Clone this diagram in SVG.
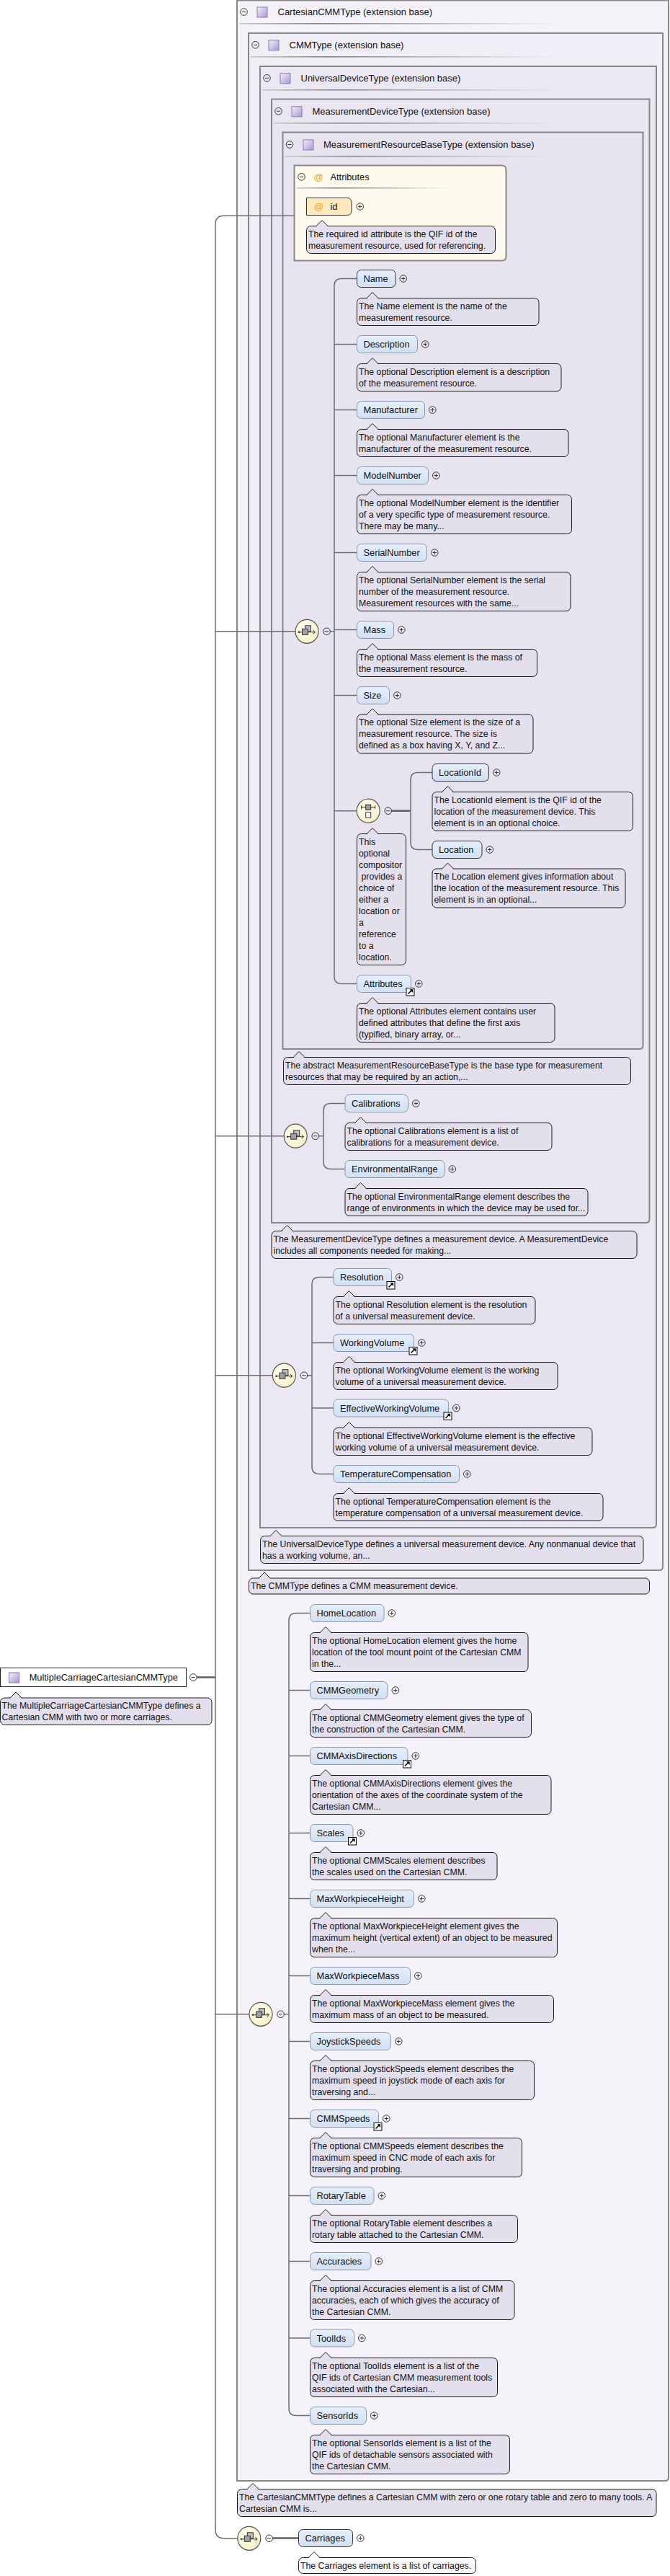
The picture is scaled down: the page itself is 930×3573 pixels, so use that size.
<svg xmlns="http://www.w3.org/2000/svg" width="930" height="3573" viewBox="0 0 930 3573">
<style>
.bx{stroke:#878787;stroke-width:2}
.cm{fill:#e4dfec;stroke:#1a1a1a;stroke-width:1}
.cw{fill:#fbfaff;stroke:#1a1a1a;stroke-width:1}
.nd{fill:url(#ndg);stroke:#8a98ad;stroke-width:1}
.nr{fill:url(#ndg);stroke:#333;stroke-width:1}
.ct{font-family:"Liberation Sans",Arial,sans-serif;font-size:12.3px;fill:#111}
.nt{font-family:"Liberation Sans",Arial,sans-serif;font-size:12.8px;fill:#111}
.ht{font-family:"Liberation Sans",Arial,sans-serif;font-size:13px;fill:#111}
.at{font-family:"Liberation Sans",Arial,sans-serif;font-size:13px;fill:#f0a020}
.con{fill:none;stroke:#6e6e6e;stroke-width:1.5}
.thk{fill:none;stroke:#5e5e5e;stroke-width:2.5}
.el{fill:url(#elg);stroke:#555;stroke-width:1.2}
.sep{fill:url(#sepg)}
</style>
<defs>
<linearGradient id="tig" x1="0" y1="0" x2="1" y2="1"><stop offset="0" stop-color="#f4f0fb"/><stop offset="1" stop-color="#a898d0"/></linearGradient>
<linearGradient id="ndg" x1="0" y1="0" x2="0" y2="1"><stop offset="0" stop-color="#e6eefa"/><stop offset="1" stop-color="#d2e0f3"/></linearGradient>
<linearGradient id="sepg" x1="0" y1="0" x2="1" y2="0"><stop offset="0" stop-color="#c8c8c8"/><stop offset="0.25" stop-color="#868686"/><stop offset="0.6" stop-color="#b8b8b8"/><stop offset="1" stop-color="#c0c0c0" stop-opacity="0"/></linearGradient>
<radialGradient id="elg" cx="0.4" cy="0.35" r="0.7"><stop offset="0" stop-color="#fffff0"/><stop offset="1" stop-color="#f6f1c8"/></radialGradient>
<g id="plus"><circle r="4.8" fill="none" stroke="#333" stroke-width="1"/><path d="M-2.6,0H2.6M0,-2.6V2.6" stroke="#333" stroke-width="1"/></g>
<g id="minus"><circle r="4.8" fill="none" stroke="#333" stroke-width="1"/><path d="M-2.6,0H2.6" stroke="#333" stroke-width="1"/></g>
<g id="ptr"><path d="M13.5,1 L21.5,-8 L29.5,1 Z" fill="#e4dfec"/><path d="M13.5,0 L21.5,-8 L29.5,0" fill="none" stroke="#1a1a1a"/></g>
<g id="ptrw"><path d="M13.5,1 L21.5,-8 L29.5,1 Z" fill="#fbfaff"/><path d="M13.5,0 L21.5,-8 L29.5,0" fill="none" stroke="#1a1a1a"/></g>
<g id="ref"><rect x="0.5" y="0.5" width="11" height="10.5" fill="#fff" stroke="#000"/><path d="M3,8.5 L8,3.5" stroke="#000" stroke-width="1.6"/><path d="M5,2.3 H9.6 V6.9 Z" fill="#000"/></g>
<g id="ti"><rect x="0.5" y="0.5" width="14" height="14" fill="url(#tig)" stroke="#8878b8"/></g>
<g id="seq"><path d="M-11,1 H11" stroke="#333" stroke-width="1"/><circle cx="-11" cy="1" r="1.3" fill="#333"/><path d="M8.5,-1.5 L11.5,1 L8.5,3.5" fill="none" stroke="#333"/><rect x="-2.5" y="-8" width="8" height="8" fill="#c0c0c0" stroke="#333"/><rect x="-6.5" y="-3.5" width="8" height="8" fill="#a0a0a0" stroke="#333"/></g>
<g id="cho"><path d="M-9.5,-5 H9.5 M-9.5,-7.5 V-2.5 M9.5,-7.5 V-2.5" stroke="#333" fill="none"/><rect x="-3.5" y="-8.5" width="7" height="7" fill="#999" stroke="#333"/><rect x="-3.5" y="2" width="7" height="7.5" fill="#fff" stroke="#333"/></g>
</defs>
<rect width="930" height="3573" fill="#fff"/>

<g id="box-cartesian">
<path class="bx" fill="#f5f3f9" d="M329,0.5 H928 V3436 Q928,3441 923,3441 H329 Z"/>
<use href="#minus" x="338.5" y="16.5"/><use href="#ti" x="356.5" y="9.5"/>
<text class="ht" x="385.5" y="21">CartesianCMMType (extension base)</text>
<rect class="sep" x="332" y="32" width="448" height="1.6"/>
</g>
<g id="box-cmm">
<path class="bx" fill="#f0eef6" d="M345,46 H920 V2173 Q920,2178 915,2178 H345 Z"/>
<use href="#minus" x="354.5" y="62.3"/><use href="#ti" x="372.5" y="55.3"/>
<text class="ht" x="401.5" y="66.7">CMMType (extension base)</text>
<rect class="sep" x="348" y="78" width="430" height="1.6"/>
</g>
<g id="box-universal">
<path class="bx" fill="#ebe8f3" d="M361,92 H911 V2114 Q911,2119 906,2119 H361 Z"/>
<use href="#minus" x="370.5" y="108.3"/><use href="#ti" x="388.5" y="101.3"/>
<text class="ht" x="417.5" y="112.7">UniversalDeviceType (extension base)</text>
<rect class="sep" x="364" y="124" width="412" height="1.6"/>
</g>
<g id="box-measdevice">
<path class="bx" fill="#e9e6f1" d="M377,137.5 H901.5 V1691 Q901.5,1696 896.5,1696 H377 Z"/>
<use href="#minus" x="386.5" y="154.3"/><use href="#ti" x="404.5" y="147.3"/>
<text class="ht" x="433.5" y="158.7">MeasurementDeviceType (extension base)</text>
<rect class="sep" x="380" y="170" width="396" height="1.6"/>
</g>
<g id="box-resbase">
<path class="bx" fill="#e7e4f0" d="M392.5,183.5 H892.5 V1450 Q892.5,1455 887.5,1455 H392.5 Z"/>
<use href="#minus" x="402" y="200.5"/><use href="#ti" x="420.5" y="193.5"/>
<text class="ht" x="449" y="204.7">MeasurementResourceBaseType (extension base)</text>
<rect class="sep" x="395.5" y="216" width="374" height="1.6"/>
</g>
<g id="attributes-group">
<path class="bx" fill="#fffaee" d="M408.5,229.5 H696.5 Q702.5,229.5 702.5,235.5 V355.5 Q702.5,361.5 696.5,361.5 H408.5 Z"/>
<use href="#minus" x="418.5" y="245.3"/>
<text class="at" x="435.5" y="250">@</text>
<text class="nt" x="458.5" y="250">Attributes</text>
<rect class="sep" x="411.5" y="260" width="216" height="1.6"/>
</g>
<g id="attr-id">
<path d="M425.5,274.5 H481.5 Q488,274.5 488,281 V292 Q488,298.5 481.5,298.5 H425.5 Z" fill="#fee9bf" stroke="#333"/>
<text class="at" x="436" y="291">@</text>
<text class="nt" x="458.5" y="291">id</text>
<use href="#plus" x="499.7" y="286.5"/>
</g>

<g id="connectors">
<path class="con" d="M408.5,299.3 H311 Q299,299.3 299,311.3 V3508.8 Q299,3520.8 311,3520.8 H329.8"/>
<path class="con" d="M299,875.8 H410"/>
<path class="con" d="M299,1575.7 H394.2"/>
<path class="con" d="M299,1907.7 H378.4"/>
<path class="con" d="M299,2793.8 H346"/>
<path class="thk" d="M273.3,2326.5 H299"/>
<path class="con" d="M458.3,875.8 H464"/>
<path class="con" d="M495.5,386.5 H474 Q464,386.5 464,396.5 V1354.5 Q464,1364.5 474,1364.5 H495.5"/>
<path class="con" d="M464,477.5 H495.5 M464,568.5 H495.5 M464,659.5 H495.5 M464,766.5 H495.5 M464,873.5 H495.5 M464,964.5 H495.5 M464,1124.7 H495.2"/>
<path class="thk" d="M543.6,1124.7 H570"/>
<path class="con" d="M600,1071.5 H580 Q570,1071.5 570,1081.5 V1168.5 Q570,1178.5 580,1178.5 H600"/>
<path class="con" d="M442.5,1575.7 H449"/>
<path class="con" d="M479,1530.5 H459 Q449,1530.5 449,1540.5 V1611.5 Q449,1621.5 459,1621.5 H479"/>
<path class="con" d="M426.8,1907.7 H433"/>
<path class="con" d="M463,1771.5 H443 Q433,1771.5 433,1781.5 V2034.5 Q433,2044.5 443,2044.5 H463"/>
<path class="con" d="M433,1862.5 H463 M433,1953 H463"/>
<path class="con" d="M394.3,2793.8 H401"/>
<path class="con" d="M430.5,2237.5 H411 Q401,2237.5 401,2247.5 V3340.5 Q401,3350.5 411,3350.5 H430.5"/>
<path class="con" d="M401,2344.5 H430.5 M401,2435.5 H430.5 M401,2542.5 H430.5 M401,2633.5 H430.5 M401,2740.5 H430.5 M401,2831.5 H430.5 M401,2938.5 H430.5 M401,3045.5 H430.5 M401,3136.5 H430.5 M401,3243 H430.5"/>
<path class="thk" d="M378.5,3520.6 H414.5"/>
</g>

<g id="root">
<rect x="0.5" y="2313.5" width="258" height="26" fill="#fff" stroke="#222"/>
<use href="#ti" x="12" y="2319.5"/>
<text class="nt" x="40.7" y="2330.8">MultipleCarriageCartesianCMMType</text>
<use href="#minus" x="268.3" y="2326.5"/>
</g>

<g id="seq-resbase"><ellipse class="el" cx="426" cy="875.8" rx="16" ry="16.5"/><use href="#seq" x="426" y="875.8"/><use href="#minus" x="453.5" y="875.8"/></g>
<g id="choice-location"><ellipse class="el" cx="511.2" cy="1124.7" rx="16" ry="16.5"/><use href="#cho" x="511.2" y="1124.7"/><use href="#minus" x="538.8" y="1124.7"/></g>
<g id="seq-measdevice"><ellipse class="el" cx="410.2" cy="1575.7" rx="16" ry="16.5"/><use href="#seq" x="410.2" y="1575.7"/><use href="#minus" x="437.7" y="1575.7"/></g>
<g id="seq-universal"><ellipse class="el" cx="394.4" cy="1907.7" rx="16" ry="16.5"/><use href="#seq" x="394.4" y="1907.7"/><use href="#minus" x="422" y="1907.7"/></g>
<g id="seq-cartesian"><ellipse class="el" cx="362" cy="2793.8" rx="16" ry="16.5"/><use href="#seq" x="362" y="2793.8"/><use href="#minus" x="389.5" y="2793.8"/></g>
<g id="seq-multiple"><ellipse class="el" cx="345.8" cy="3520.8" rx="16" ry="16.5"/><use href="#seq" x="345.8" y="3520.8"/><use href="#minus" x="373.6" y="3520.8"/></g>

<g id="n-name"><rect class="nr" x="495.5" y="374.5" width="53.5" height="24" rx="6"/><text class="nt" x="504.5" y="391.2">Name</text><use href="#plus" x="559.8" y="386.5"/></g>
<g id="n-description"><rect class="nd" x="495.5" y="465.5" width="84" height="24" rx="6"/><text class="nt" x="504.5" y="482.2">Description</text><use href="#plus" x="590.3" y="477.5"/></g>
<g id="n-manufacturer"><rect class="nd" x="495.5" y="556.5" width="94" height="24" rx="6"/><text class="nt" x="504.5" y="573.2">Manufacturer</text><use href="#plus" x="600.3" y="568.5"/></g>
<g id="n-modelnumber"><rect class="nd" x="495.5" y="647.5" width="99" height="24" rx="6"/><text class="nt" x="504.5" y="664.2">ModelNumber</text><use href="#plus" x="605.3" y="659.5"/></g>
<g id="n-serialnumber"><rect class="nd" x="495.5" y="754.5" width="97" height="24" rx="6"/><text class="nt" x="504.5" y="771.2">SerialNumber</text><use href="#plus" x="603.3" y="766.5"/></g>
<g id="n-mass"><rect class="nd" x="495.5" y="861.5" width="51" height="24" rx="6"/><text class="nt" x="504.5" y="878.2">Mass</text><use href="#plus" x="557.3" y="873.5"/></g>
<g id="n-size"><rect class="nd" x="495.5" y="952.5" width="45" height="24" rx="6"/><text class="nt" x="504.5" y="969.2">Size</text><use href="#plus" x="551.3" y="964.5"/></g>
<g id="n-locationid"><rect class="nr" x="600" y="1059.5" width="78.5" height="24" rx="6"/><text class="nt" x="609" y="1076.2">LocationId</text><use href="#plus" x="689.3" y="1071.5"/></g>
<g id="n-location"><rect class="nr" x="600" y="1166.5" width="69" height="24" rx="6"/><text class="nt" x="609" y="1183.2">Location</text><use href="#plus" x="679.8" y="1178.5"/></g>
<g id="n-attributes"><rect class="nd" x="495.5" y="1352.5" width="75" height="24" rx="6"/><text class="nt" x="504.5" y="1369.2">Attributes</text><use href="#ref" x="563.5" y="1370"/><use href="#plus" x="581.3" y="1364.5"/></g>
<g id="n-calibrations"><rect class="nd" x="479" y="1518.5" width="87.5" height="24" rx="6"/><text class="nt" x="488" y="1535.2">Calibrations</text><use href="#plus" x="577.3" y="1530.5"/></g>
<g id="n-envrange"><rect class="nd" x="479" y="1609.5" width="138" height="24" rx="6"/><text class="nt" x="488" y="1626.2">EnvironmentalRange</text><use href="#plus" x="627.8" y="1621.5"/></g>
<g id="n-resolution"><rect class="nd" x="463" y="1759.5" width="80.5" height="24" rx="6"/><text class="nt" x="472" y="1776.2">Resolution</text><use href="#ref" x="536.5" y="1777"/><use href="#plus" x="554.3" y="1771.5"/></g>
<g id="n-workingvolume"><rect class="nd" x="463" y="1850.5" width="111.5" height="24" rx="6"/><text class="nt" x="472" y="1867.2">WorkingVolume</text><use href="#ref" x="567.5" y="1868"/><use href="#plus" x="585.3" y="1862.5"/></g>
<g id="n-effworkingvolume"><rect class="nd" x="463" y="1941" width="159.5" height="24" rx="6"/><text class="nt" x="472" y="1957.7">EffectiveWorkingVolume</text><use href="#ref" x="615.5" y="1958.5"/><use href="#plus" x="633.3" y="1953"/></g>
<g id="n-tempcomp"><rect class="nd" x="463" y="2032.5" width="174.5" height="24" rx="6"/><text class="nt" x="472" y="2049.2">TemperatureCompensation</text><use href="#plus" x="648.3" y="2044.5"/></g>
<g id="n-homelocation"><rect class="nd" x="430.5" y="2225.5" width="102.5" height="24" rx="6"/><text class="nt" x="439.5" y="2242.2">HomeLocation</text><use href="#plus" x="543.8" y="2237.5"/></g>
<g id="n-cmmgeometry"><rect class="nd" x="430.5" y="2332.5" width="107.5" height="24" rx="6"/><text class="nt" x="439.5" y="2349.2">CMMGeometry</text><use href="#plus" x="548.8" y="2344.5"/></g>
<g id="n-cmmaxisdirections"><rect class="nd" x="430.5" y="2423.5" width="135.5" height="24" rx="6"/><text class="nt" x="439.5" y="2440.2">CMMAxisDirections</text><use href="#ref" x="559" y="2441"/><use href="#plus" x="576.8" y="2435.5"/></g>
<g id="n-scales"><rect class="nd" x="430.5" y="2530.5" width="59.5" height="24" rx="6"/><text class="nt" x="439.5" y="2547.2">Scales</text><use href="#ref" x="483" y="2548"/><use href="#plus" x="500.8" y="2542.5"/></g>
<g id="n-maxwpheight"><rect class="nd" x="430.5" y="2621.5" width="144" height="24" rx="6"/><text class="nt" x="439.5" y="2638.2">MaxWorkpieceHeight</text><use href="#plus" x="585.3" y="2633.5"/></g>
<g id="n-maxwpmass"><rect class="nd" x="430.5" y="2728.5" width="139" height="24" rx="6"/><text class="nt" x="439.5" y="2745.2">MaxWorkpieceMass</text><use href="#plus" x="580.3" y="2740.5"/></g>
<g id="n-joystickspeeds"><rect class="nd" x="430.5" y="2819.5" width="112" height="24" rx="6"/><text class="nt" x="439.5" y="2836.2">JoystickSpeeds</text><use href="#plus" x="553.3" y="2831.5"/></g>
<g id="n-cmmspeeds"><rect class="nd" x="430.5" y="2926.5" width="95" height="24" rx="6"/><text class="nt" x="439.5" y="2943.2">CMMSpeeds</text><use href="#ref" x="518.5" y="2944"/><use href="#plus" x="536.3" y="2938.5"/></g>
<g id="n-rotarytable"><rect class="nd" x="430.5" y="3033.5" width="88.5" height="24" rx="6"/><text class="nt" x="439.5" y="3050.2">RotaryTable</text><use href="#plus" x="529.8" y="3045.5"/></g>
<g id="n-accuracies"><rect class="nd" x="430.5" y="3124.5" width="84.5" height="24" rx="6"/><text class="nt" x="439.5" y="3141.2">Accuracies</text><use href="#plus" x="525.8" y="3136.5"/></g>
<g id="n-toolids"><rect class="nd" x="430.5" y="3231" width="61" height="24" rx="6"/><text class="nt" x="439.5" y="3247.7">ToolIds</text><use href="#plus" x="502.3" y="3243"/></g>
<g id="n-sensorids"><rect class="nd" x="430.5" y="3338.5" width="78" height="24" rx="6"/><text class="nt" x="439.5" y="3355.2">SensorIds</text><use href="#plus" x="519.3" y="3350.5"/></g>
<g id="n-carriages"><rect class="nr" x="414.5" y="3508.5" width="75" height="24" rx="6"/><text class="nt" x="423.5" y="3525.2">Carriages</text><use href="#plus" x="500.3" y="3520.5"/></g>

<g id="c-id" transform="translate(425.5,313.5)"><rect class="cm" width="262" height="38" rx="6"/><use href="#ptr"/><text class="ct"><tspan x="2.5" y="15">The required id attribute is the QIF id of the</tspan><tspan x="2.5" y="31">measurement resource, used for referencing.</tspan></text></g>
<g id="c-name" transform="translate(495.5,413.5)"><rect class="cm" width="252.5" height="38" rx="6"/><use href="#ptr"/><text class="ct"><tspan x="2.5" y="15">The Name element is the name of the</tspan><tspan x="2.5" y="31">measurement resource.</tspan></text></g>
<g id="c-description" transform="translate(495.5,504.5)"><rect class="cm" width="283.5" height="38" rx="6"/><use href="#ptr"/><text class="ct"><tspan x="2.5" y="15">The optional Description element is a description</tspan><tspan x="2.5" y="31">of the measurement resource.</tspan></text></g>
<g id="c-manufacturer" transform="translate(495.5,595.5)"><rect class="cm" width="293.5" height="38" rx="6"/><use href="#ptr"/><text class="ct"><tspan x="2.5" y="15">The optional Manufacturer element is the</tspan><tspan x="2.5" y="31">manufacturer of the measurement resource.</tspan></text></g>
<g id="c-modelnumber" transform="translate(495.5,686.5)"><rect class="cm" width="298" height="54" rx="6"/><use href="#ptr"/><text class="ct"><tspan x="2.5" y="15">The optional ModelNumber element is the identifier</tspan><tspan x="2.5" y="31">of a very specific type of measurement resource.</tspan><tspan x="2.5" y="47">There may be many...</tspan></text></g>
<g id="c-serialnumber" transform="translate(495.5,793.5)"><rect class="cm" width="296.5" height="54" rx="6"/><use href="#ptr"/><text class="ct"><tspan x="2.5" y="15">The optional SerialNumber element is the serial</tspan><tspan x="2.5" y="31">number of the measurement resource.</tspan><tspan x="2.5" y="47">Measurement resources with the same...</tspan></text></g>
<g id="c-mass" transform="translate(495.5,900.5)"><rect class="cm" width="250" height="38" rx="6"/><use href="#ptr"/><text class="ct"><tspan x="2.5" y="15">The optional Mass element is the mass of</tspan><tspan x="2.5" y="31">the measurement resource.</tspan></text></g>
<g id="c-size" transform="translate(495.5,991)"><rect class="cm" width="244.5" height="54" rx="6"/><use href="#ptr"/><text class="ct"><tspan x="2.5" y="15">The optional Size element is the size of a</tspan><tspan x="2.5" y="31">measurement resource. The size is</tspan><tspan x="2.5" y="47">defined as a box having X, Y, and Z...</tspan></text></g>
<g id="c-locationid" transform="translate(600,1098.5)"><rect class="cm" width="278.5" height="54" rx="6"/><use href="#ptr"/><text class="ct"><tspan x="2.5" y="15">The LocationId element is the QIF id of the</tspan><tspan x="2.5" y="31">location of the measurement device. This</tspan><tspan x="2.5" y="47">element is in an optional choice.</tspan></text></g>
<g id="c-location" transform="translate(600,1205)"><rect class="cm" width="268" height="54" rx="6"/><use href="#ptr"/><text class="ct"><tspan x="2.5" y="15">The Location element gives information about</tspan><tspan x="2.5" y="31">the location of the measurement resource. This</tspan><tspan x="2.5" y="47">element is in an optional...</tspan></text></g>
<g id="c-choice" transform="translate(495.5,1156.5)"><rect class="cm" width="68" height="182" rx="6"/><use href="#ptr"/><text class="ct"><tspan x="2.5" y="15">This</tspan><tspan x="2.5" y="31">optional</tspan><tspan x="2.5" y="47">compositor</tspan><tspan x="6" y="63">provides a</tspan><tspan x="2.5" y="79">choice of</tspan><tspan x="2.5" y="95">either a</tspan><tspan x="2.5" y="111">location or</tspan><tspan x="2.5" y="127">a</tspan><tspan x="2.5" y="143">reference</tspan><tspan x="2.5" y="159">to a</tspan><tspan x="2.5" y="175">location.</tspan></text></g>
<g id="c-attributes" transform="translate(495.5,1391.5)"><rect class="cm" width="274.5" height="54" rx="6"/><use href="#ptr"/><text class="ct"><tspan x="2.5" y="15">The optional Attributes element contains user</tspan><tspan x="2.5" y="31">defined attributes that define the first axis</tspan><tspan x="2.5" y="47">(typified, binary array, or...</tspan></text></g>
<g id="c-resbase" transform="translate(393.5,1466.5)"><rect class="cm" width="482" height="38" rx="6"/><use href="#ptr"/><text class="ct"><tspan x="2.5" y="15">The abstract MeasurementResourceBaseType is the base type for measurement</tspan><tspan x="2.5" y="31">resources that may be required by an action,...</tspan></text></g>
<g id="c-calibrations" transform="translate(479,1557.5)"><rect class="cm" width="287" height="38" rx="6"/><use href="#ptr"/><text class="ct"><tspan x="2.5" y="15">The optional Calibrations element is a list of</tspan><tspan x="2.5" y="31">calibrations for a measurement device.</tspan></text></g>
<g id="c-envrange" transform="translate(479,1648.5)"><rect class="cm" width="337" height="38" rx="6"/><use href="#ptr"/><text class="ct"><tspan x="2.5" y="15">The optional EnvironmentalRange element describes the</tspan><tspan x="2.5" y="31">range of environments in which the device may be used for...</tspan></text></g>
<g id="c-measdevice" transform="translate(377,1707.5)"><rect class="cm" width="507" height="38" rx="6"/><use href="#ptr"/><text class="ct"><tspan x="2.5" y="15">The MeasurementDeviceType defines a measurement device. A MeasurementDevice</tspan><tspan x="2.5" y="31">includes all components needed for making...</tspan></text></g>
<g id="c-resolution" transform="translate(463,1798.5)"><rect class="cm" width="280" height="38" rx="6"/><use href="#ptr"/><text class="ct"><tspan x="2.5" y="15">The optional Resolution element is the resolution</tspan><tspan x="2.5" y="31">of a universal measurement device.</tspan></text></g>
<g id="c-workingvolume" transform="translate(463,1889.5)"><rect class="cm" width="311" height="38" rx="6"/><use href="#ptr"/><text class="ct"><tspan x="2.5" y="15">The optional WorkingVolume element is the working</tspan><tspan x="2.5" y="31">volume of a universal measurement device.</tspan></text></g>
<g id="c-effworkingvolume" transform="translate(463,1980.5)"><rect class="cm" width="359" height="38" rx="6"/><use href="#ptr"/><text class="ct"><tspan x="2.5" y="15">The optional EffectiveWorkingVolume element is the effective</tspan><tspan x="2.5" y="31">working volume of a universal measurement device.</tspan></text></g>
<g id="c-tempcomp" transform="translate(463,2071.5)"><rect class="cm" width="374" height="38" rx="6"/><use href="#ptr"/><text class="ct"><tspan x="2.5" y="15">The optional TemperatureCompensation element is the</tspan><tspan x="2.5" y="31">temperature compensation of a universal measurement device.</tspan></text></g>
<g id="c-universal" transform="translate(361.5,2130.5)"><rect class="cm" width="531.5" height="38" rx="6"/><use href="#ptr"/><text class="ct"><tspan x="2.5" y="15">The UniversalDeviceType defines a universal measurement device. Any nonmanual device that</tspan><tspan x="2.5" y="31">has a working volume, an...</tspan></text></g>
<g id="c-cmm" transform="translate(345.5,2189)"><rect class="cm" width="556" height="22" rx="6"/><use href="#ptr"/><text class="ct"><tspan x="2.5" y="15">The CMMType defines a CMM measurement device.</tspan></text></g>
<g id="c-homelocation" transform="translate(430.5,2264.5)"><rect class="cm" width="302.5" height="54" rx="6"/><use href="#ptr"/><text class="ct"><tspan x="2.5" y="15">The optional HomeLocation element gives the home</tspan><tspan x="2.5" y="31">location of the tool mount point of the Cartesian CMM</tspan><tspan x="2.5" y="47">in the...</tspan></text></g>
<g id="c-cmmgeometry" transform="translate(430.5,2371.5)"><rect class="cm" width="307" height="38" rx="6"/><use href="#ptr"/><text class="ct"><tspan x="2.5" y="15">The optional CMMGeometry element gives the type of</tspan><tspan x="2.5" y="31">the construction of the Cartesian CMM.</tspan></text></g>
<g id="c-cmmaxisdirections" transform="translate(430.5,2462.5)"><rect class="cm" width="334.5" height="54" rx="6"/><use href="#ptr"/><text class="ct"><tspan x="2.5" y="15">The optional CMMAxisDirections element gives the</tspan><tspan x="2.5" y="31">orientation of the axes of the coordinate system of the</tspan><tspan x="2.5" y="47">Cartesian CMM...</tspan></text></g>
<g id="c-scales" transform="translate(430.5,2569.5)"><rect class="cm" width="259.5" height="38" rx="6"/><use href="#ptr"/><text class="ct"><tspan x="2.5" y="15">The optional CMMScales element describes</tspan><tspan x="2.5" y="31">the scales used on the Cartesian CMM.</tspan></text></g>
<g id="c-maxwpheight" transform="translate(430.5,2660.5)"><rect class="cm" width="343" height="54" rx="6"/><use href="#ptr"/><text class="ct"><tspan x="2.5" y="15">The optional MaxWorkpieceHeight element gives the</tspan><tspan x="2.5" y="31">maximum height (vertical extent) of an object to be measured</tspan><tspan x="2.5" y="47">when the...</tspan></text></g>
<g id="c-maxwpmass" transform="translate(430.5,2767.5)"><rect class="cm" width="338" height="38" rx="6"/><use href="#ptr"/><text class="ct"><tspan x="2.5" y="15">The optional MaxWorkpieceMass element gives the</tspan><tspan x="2.5" y="31">maximum mass of an object to be measured.</tspan></text></g>
<g id="c-joystickspeeds" transform="translate(430.5,2858.5)"><rect class="cm" width="311" height="54" rx="6"/><use href="#ptr"/><text class="ct"><tspan x="2.5" y="15">The optional JoystickSpeeds element describes the</tspan><tspan x="2.5" y="31">maximum speed in joystick mode of each axis for</tspan><tspan x="2.5" y="47">traversing and...</tspan></text></g>
<g id="c-cmmspeeds" transform="translate(430.5,2965.5)"><rect class="cm" width="294" height="54" rx="6"/><use href="#ptr"/><text class="ct"><tspan x="2.5" y="15">The optional CMMSpeeds element describes the</tspan><tspan x="2.5" y="31">maximum speed in CNC mode of each axis for</tspan><tspan x="2.5" y="47">traversing and probing.</tspan></text></g>
<g id="c-rotarytable" transform="translate(430.5,3072.5)"><rect class="cm" width="288" height="38" rx="6"/><use href="#ptr"/><text class="ct"><tspan x="2.5" y="15">The optional RotaryTable element describes a</tspan><tspan x="2.5" y="31">rotary table attached to the Cartesian CMM.</tspan></text></g>
<g id="c-accuracies" transform="translate(430.5,3163.5)"><rect class="cm" width="283.5" height="54" rx="6"/><use href="#ptr"/><text class="ct"><tspan x="2.5" y="15">The optional Accuracies element is a list of CMM</tspan><tspan x="2.5" y="31">accuracies, each of which gives the accuracy of</tspan><tspan x="2.5" y="47">the Cartesian CMM.</tspan></text></g>
<g id="c-toolids" transform="translate(430.5,3270.5)"><rect class="cm" width="260" height="54" rx="6"/><use href="#ptr"/><text class="ct"><tspan x="2.5" y="15">The optional ToolIds element is a list of the</tspan><tspan x="2.5" y="31">QIF ids of Cartesian CMM measurement tools</tspan><tspan x="2.5" y="47">associated with the Cartesian...</tspan></text></g>
<g id="c-sensorids" transform="translate(430.5,3377.5)"><rect class="cm" width="277" height="54" rx="6"/><use href="#ptr"/><text class="ct"><tspan x="2.5" y="15">The optional SensorIds element is a list of the</tspan><tspan x="2.5" y="31">QIF ids of detachable sensors associated with</tspan><tspan x="2.5" y="47">the Cartesian CMM.</tspan></text></g>
<g id="c-cartesian" transform="translate(329.5,3452.5)"><rect class="cm" width="581.5" height="38" rx="6"/><use href="#ptr"/><text class="ct"><tspan x="2.5" y="15">The CartesianCMMType defines a Cartesian CMM with zero or one rotary table and zero to many tools. A</tspan><tspan x="2.5" y="31">Cartesian CMM is...</tspan></text></g>
<g id="c-carriages" transform="translate(414.5,3547.5)"><rect class="cw" width="246" height="22" rx="6"/><use href="#ptrw"/><text class="ct"><tspan x="2.5" y="15">The Carriages element is a list of carriages.</tspan></text></g>
<g id="c-root" transform="translate(0.5,2355)"><rect class="cm" width="293.5" height="37.5" rx="6"/><use href="#ptr" x="0"/><text class="ct"><tspan x="2" y="15">The MultipleCarriageCartesianCMMType defines a</tspan><tspan x="2" y="31">Cartesian CMM with two or more carriages.</tspan></text></g>
</svg>
